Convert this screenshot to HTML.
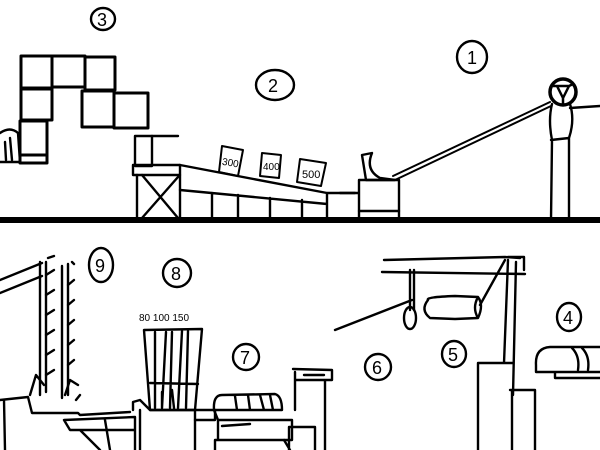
<!DOCTYPE html>
<html><head><meta charset="utf-8"><style>
html,body{margin:0;padding:0;background:#fff;width:600px;height:450px;overflow:hidden}
svg{display:block}
text{font-family:"Liberation Sans",sans-serif;fill:#000}
</style></head><body>
<svg width="600" height="450" viewBox="0 0 600 450" fill="none" stroke="#000" stroke-width="2.4" stroke-linecap="round" stroke-linejoin="round">
<rect x="0" y="217" width="600" height="6" fill="#000" stroke="none"/>

<ellipse cx="103" cy="19" rx="12" ry="11"/><text x="97" y="26" font-size="18" stroke="none">3</text>
<ellipse cx="275" cy="85" rx="19" ry="15"/><text x="268" y="92" font-size="18" stroke="none">2</text>
<ellipse cx="472" cy="57" rx="15" ry="16"/><text x="467" y="64" font-size="18" stroke="none">1</text>

<g stroke-width="3">
<rect x="21" y="56" width="31" height="32"/><rect x="52" y="56" width="33" height="31"/><rect x="85" y="57" width="30" height="33"/>
<rect x="21" y="89" width="31" height="31"/>
<rect x="82" y="91" width="32" height="36"/><rect x="114" y="93" width="34" height="35"/>
<rect x="20" y="121" width="27" height="34"/><rect x="20" y="155" width="27" height="8"/>
</g>
<path d="M0 133 Q10 126 18 133 L20 162 L0 162 M5 142 L6 160 M10 138 L12 160"/>

<rect x="135" y="136" width="17" height="30"/><path d="M152 136 L178 136"/>
<rect x="133" y="165" width="47" height="10"/>
<path d="M137 175 L137 220 M180 175 L180 220 M142 175 L178 218 M178 177 L142 218"/>
<path d="M180 165 L327 193 M180 190 L327 204 M327 193 L327 220 M212 193 L212 220 M238 195 L238 220 M270 198 L270 220 M302 200 L302 220 M327 193 L355 193"/>
<g stroke-width="2">
<path d="M222 146 L243 150 L238 176 L219 172 Z"/><path d="M262 153 L281 155 L279 178 L260 176 Z"/><path d="M300 159 L326 163 L321 186 L297 182 Z"/>
</g>
<text x="222" y="166" font-size="10" stroke="none" transform="rotate(10 230 163)">300</text>
<text x="263" y="170" font-size="10" stroke="none">400</text>
<text x="302" y="178" font-size="11" stroke="none">500</text>

<rect x="359" y="180" width="40" height="40"/><path d="M359 211 L399 211 M340 193 L358 193"/>
<path d="M362 155 L372 153 Q365 170 380 178 L395 180 L366 180 Z"/>
<path d="M395 180 L551 106 M393 176 L550 102" stroke-width="2"/>
<circle cx="563" cy="92" r="13" stroke-width="3.5"/><path d="M557 86 L569 86 L563 98 Z M553 86 L557 86 M569 86 L573 84 M563 98 L563 104" stroke-width="2.5"/>
<path d="M552 104 Q548 120 552 140 L551 220 M570 104 Q575 120 569 138 L569 220 M551 140 L569 138 M570 108 L600 106"/>

<ellipse cx="101" cy="265" rx="12" ry="17"/><text x="95" y="272" font-size="18" stroke="none">9</text>
<ellipse cx="177" cy="273" rx="14" ry="14"/><text x="171" y="280" font-size="18" stroke="none">8</text>
<ellipse cx="246" cy="357" rx="13" ry="13"/><text x="240" y="364" font-size="18" stroke="none">7</text>
<ellipse cx="378" cy="367" rx="13" ry="13"/><text x="372" y="374" font-size="18" stroke="none">6</text>
<ellipse cx="454" cy="354" rx="12" ry="13"/><text x="448" y="361" font-size="18" stroke="none">5</text>
<ellipse cx="569" cy="317" rx="12" ry="14"/><text x="563" y="324" font-size="18" stroke="none">4</text>

<path d="M0 280 L42 263 M0 293 L42 276"/>
<path d="M40 262 L40 395 M46 262 L46 392 M48 258 L54 256 M62 266 L62 398 M68 264 L68 395 M72 262 L74 264"/>
<path d="M46 275 L54 270 M46 295 L54 290 M46 315 L54 310 M46 335 L54 330 M46 355 L54 350 M46 375 L54 370 M68 285 L74 280 M68 305 L74 300 M68 325 L74 320 M68 345 L74 340 M68 365 L74 360"/>
<path d="M30 395 L36 375 L44 385 M65 395 L70 380 L78 385"/>
<path d="M0 400 L28 397 L32 413 L78 413 L80 415 L130 412 M4 400 L5 450 M80 395 L76 400"/>
<path d="M64 420 L135 417 L135 450 M64 420 L70 430 L135 430 M80 430 L100 450 M105 420 L110 450"/>

<text x="139" y="321" font-size="10" stroke="none">80 100 150</text>
<path d="M144 330 L202 329 L195 410 L150 410 Z"/>
<path d="M155 332 L155 408 M166 332 L162 408 M172 332 L170 408 M182 331 L178 408 M188 331 L186 408 M150 383 L198 384 M162 392 L162 408 M172 390 L174 408"/>
<path d="M133 410 L133 402 L140 400 L150 410 L195 410 L195 450 M140 410 L140 450"/>
<path d="M195 410 L215 410 L215 420 L195 420"/>

<path d="M214 410 Q213 395 222 395 L275 394 Q282 396 282 410 L214 410 M235 396 L237 410 M248 395 L250 410 M260 395 L264 410 M270 395 L273 410"/>
<path d="M214 410 L218 420 L292 420 L292 440 L215 440 L215 450 M218 420 L218 440 M222 426 L250 424"/>
<path d="M289 427 L315 427 L315 450 M289 427 L289 450 M284 440 L290 450"/>
<path d="M295 372 L295 410 M293 369 L332 370 L332 380 L295 380 M325 380 L325 450 M304 375 L324 375"/>

<path d="M384 260 L505 257 L520 258 M382 272 L525 274 M508 257 L524 257 L524 270"/>
<path d="M410 270 L410 310 M414 270 L414 310 M505 260 L480 305 M335 330 L412 300"/>
<ellipse cx="410" cy="318" rx="6" ry="11"/>
<path d="M428 300 Q425 297 455 296 L478 297 Q484 305 478 318 L455 319 L430 318 Q420 310 428 300 Z M478 297 Q472 308 478 318"/>
<path d="M508 260 L504 363 M516 262 L513 395 M478 363 L513 363 M478 363 L478 450 M510 390 L535 390 L535 450 M512 390 L512 450"/>

<path d="M536 365 Q535 348 550 347 L600 347 M536 365 L536 372 L600 372 M555 372 L555 378 L600 378 M572 348 Q580 356 578 370 M582 348 Q590 356 588 370"/>
</svg>
</body></html>
